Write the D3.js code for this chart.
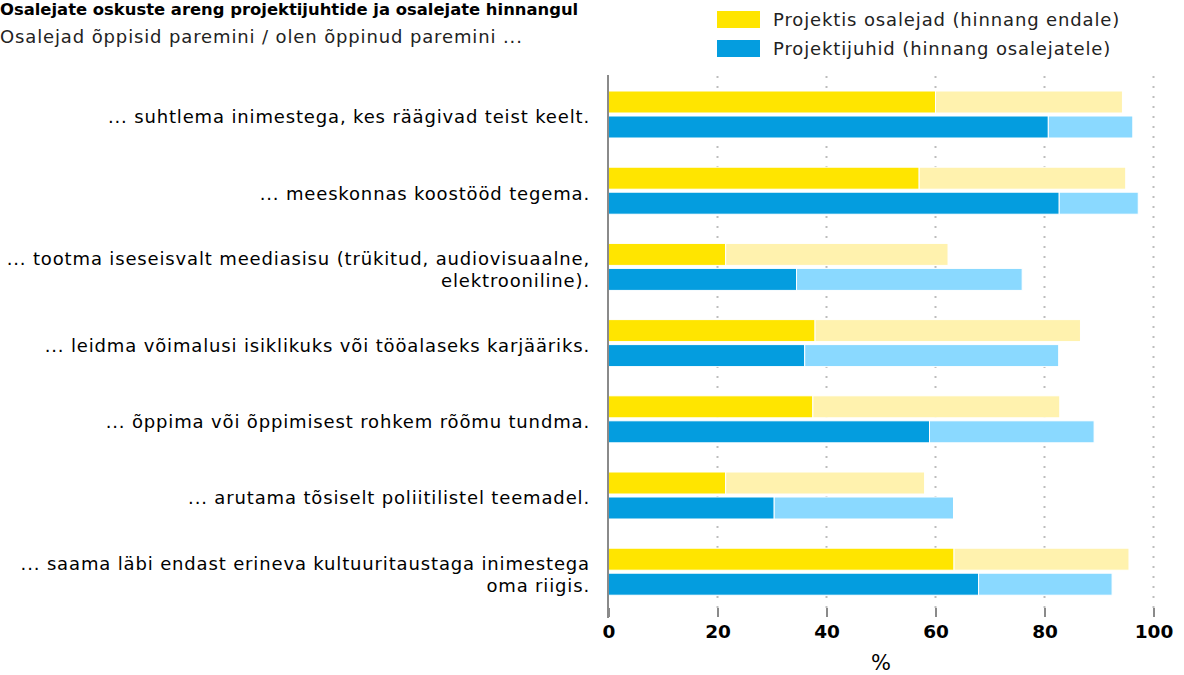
<!DOCTYPE html>
<html><head><meta charset="utf-8">
<script src="https://cdn.jsdelivr.net/npm/d3@7"></script>
<style>
body{margin:0;background:#fff;}
svg{display:block;font-family:"DejaVu Sans",Verdana,sans-serif;}
</style></head>
<body>
<svg id="chart" width="1184" height="675"></svg>
<script>
const title = "Osalejate oskuste areng projektijuhtide ja osalejate hinnangul";
const subtitle = "Osalejad õppisid paremini / olen õppinud paremini ...";
const categories = [
  ["... suhtlema inimestega, kes räägivad teist keelt."],
  ["... meeskonnas koostööd tegema."],
  ["... tootma iseseisvalt meediasisu (trükitud, audiovisuaalne,", "elektrooniline)."],
  ["... leidma võimalusi isiklikuks või tööalaseks karjääriks."],
  ["... õppima või õppimisest rohkem rõõmu tundma."],
  ["... arutama tõsiselt poliitilistel teemadel."],
  ["... saama läbi endast erineva kultuuritaustaga inimestega", "oma riigis."]
];
const seriesNames = ["Projektis osalejad (hinnang endale)", "Projektijuhid (hinnang osalejatele)"];
const participantsStrong = [60.0, 57.0, 21.5, 37.9, 37.5, 21.5, 63.4];
const participantsSome   = [34.3, 37.9, 40.8, 48.7, 45.3, 36.5, 32.1];
const leadersStrong      = [80.7, 82.7, 34.5, 36.0, 58.9, 30.4, 67.9];
const leadersSome        = [15.5, 14.5, 41.4, 46.6, 30.2, 32.9, 24.5];
const xTicks = [0, 20, 40, 60, 80, 100];
const xLabel = "%";

const colors = {
  s0: ["#FFE500", "#FFF2AE"],
  s1: ["#049DDF", "#8AD9FF"]
};

const svg = d3.select("#chart");
const catKeys = categories.map((c, i) => i);
const x = d3.scaleLinear().domain([0, 100]).range([608.5, 1153.5]);
const y = d3.scaleBand().domain(catKeys).range([76, 609.4]).padding(0);
const sub = d3.scaleBand().domain(["s0", "s1"]).range([15, 62]).paddingInner(0.12).paddingOuter(0);

// gridlines
svg.append("g").selectAll("line").data(xTicks.filter(d => d > 0)).join("line")
  .attr("x1", d => x(d)).attr("x2", d => x(d))
  .attr("y1", 76).attr("y2", 608)
  .attr("stroke", "#bdbdbd").attr("stroke-width", 2)
  .attr("stroke-dasharray", "2,8");

// data rows
const rows = catKeys.map(i => ({
  i,
  s0: [participantsStrong[i], participantsSome[i]],
  s1: [leadersStrong[i], leadersSome[i]]
}));

const barsG = svg.append("g");
rows.forEach(r => {
  ["s0", "s1"].forEach(s => {
    const vals = r[s];
    let acc = 0;
    vals.forEach((v, k) => {
      barsG.append("rect")
        .attr("x", x(acc))
        .attr("width", x(acc + v) - x(acc))
        .attr("y", y(r.i) + sub(s))
        .attr("height", sub.bandwidth())
        .attr("fill", colors[s][k])
        .attr("stroke", "#fff").attr("stroke-width", 1);
      acc += v;
    });
  });
});

// vertical axis line
svg.append("line").attr("x1", 608).attr("x2", 608).attr("y1", 75).attr("y2", 618)
  .attr("stroke", "#8a8a8a").attr("stroke-width", 2);

// x axis
const xAxis = d3.axisBottom(x).tickValues(xTicks).tickSize(9).tickPadding(8).tickFormat(d3.format("d"));
const gx = svg.append("g").attr("transform", "translate(0,608)").call(xAxis);
gx.select(".domain").remove();
gx.selectAll(".tick line").attr("stroke", "#8a8a8a").attr("stroke-width", 2);
gx.selectAll(".tick text").attr("fill", "#000").attr("font-size", 18.5).attr("font-weight", "bold")
  .attr("font-family", "'DejaVu Sans',Verdana,sans-serif");

svg.append("text").attr("x", x(50)).attr("y", 670).attr("text-anchor", "middle")
  .attr("font-size", 21).attr("fill", "#000").text(xLabel);

// category labels
const labG = svg.append("g");
rows.forEach(r => {
  const lines = categories[r.i];
  const cy = y(r.i) + 41;
  const lh = 22;
  const t = labG.append("text").attr("text-anchor", "end").attr("font-size", 18)
    .attr("letter-spacing", 0.85).attr("fill", "#000");
  lines.forEach((ln, k) => {
    t.append("tspan").attr("x", 590)
      .attr("y", cy + (k - (lines.length - 1) / 2) * lh)
      .attr("dy", "0.35em").text(ln);
  });
});

// title
svg.append("text").attr("x", 0).attr("y", 15).attr("font-size", 16.4).attr("font-weight", "bold")
  .attr("fill", "#000").text(title);
svg.append("text").attr("x", 0).attr("y", 43).attr("font-size", 18)
  .attr("letter-spacing", 0.87).attr("fill", "#222").text(subtitle);

// legend
const leg = svg.append("g");
seriesNames.forEach((n, k) => {
  const yy = 11 + k * 29;
  leg.append("rect").attr("x", 717).attr("y", yy).attr("width", 43).attr("height", 17)
    .attr("fill", colors["s" + k][0]);
  leg.append("text").attr("x", 773).attr("y", yy + 9).attr("dy", "0.35em")
    .attr("font-size", 18).attr("letter-spacing", 0.87).attr("fill", "#222").text(n);
});
</script>
</body></html>
